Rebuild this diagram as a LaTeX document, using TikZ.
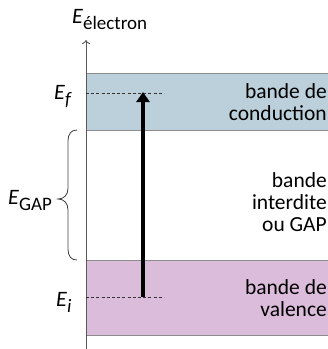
\documentclass[tikz,border=0pt]{standalone}
\usepackage{fontspec}
\setmainfont{Carlito}
\usetikzlibrary{arrows.meta}
\definecolor{condfill}{HTML}{BBD0DA}
\definecolor{valfill}{HTML}{DCBCDB}
\definecolor{edgegray}{HTML}{8C8C8C}
\definecolor{axisgray}{HTML}{595959}
\newcommand{\lowsub}[1]{\raisebox{-6pt}{\fontsize{19}{19}\selectfont #1}}
\begin{document}
\begin{tikzpicture}[x=1pt,y=-1pt,
  bandtext/.style={anchor=east, align=right, font=\fontsize{21.5}{22}\selectfont, inner sep=0pt},
  elabel/.style={anchor=base west, font=\fontsize{22}{24}\selectfont, inner sep=0pt},
  bandedge/.style={draw=edgegray, line width=0.9pt},
  dashln/.style={draw=black!80, dash pattern=on 3pt off 2.2pt, line width=0.8pt},
  axisln/.style={draw=axisgray, line width=0.9pt},
  bigarrow/.style={line width=4pt, -{Triangle[length=10pt,width=13pt]}},
  bracestyle/.style={draw=black!75, line width=0.8pt}
  ]
\useasboundingbox (0,0) rectangle (328,349);
% bands
\fill[condfill] (86,73) rectangle (328,130);
\fill[valfill] (86,260) rectangle (328,335);
\draw[bandedge] (86,73) -- (328,73) (86,130) -- (328,130);
\draw[bandedge] (86,260) -- (328,260) (86,335) -- (328,335);
% axis
\coordinate (axbot) at (86,349);
\coordinate (axtop) at (86,40);
\draw[axisln, -{To[length=4pt,width=8pt]}] (axbot) -- (axtop);
% levels
\coordinate (ef0) at (86,93);
\coordinate (ef1) at (164,93);
\coordinate (ei0) at (86,297);
\coordinate (ei1) at (164,297);
\draw[dashln] (ef0) -- (ef1);
\draw[dashln] (ei0) -- (ei1);
\coordinate (arrbot) at (143,297);
\coordinate (arrtop) at (143,92);
\draw[bigarrow] (arrbot) -- (arrtop);
% brace
\coordinate (brtop) at (77,130);
\coordinate (brbot) at (77,260);
\coordinate (brtip) at (58,199);
\draw[bracestyle] (brtop) .. controls (71,130) and (68,134) .. (68,141)
  -- (68,188) .. controls (68,195) and (64,199) .. (brtip)
  .. controls (64,199) and (68,203) .. (68,210)
  -- (68,249) .. controls (68,256) and (71,260) .. (brbot);
% labels
\node[elabel] (eel) at (72,23) {\textit{E}\lowsub{électron}};
\node[elabel] (ef) at (54,99.5) {\textit{E}\lowsub{\textit{f}}};
\node[elabel] (ei) at (56,306) {\textit{E}\lowsub{\textit{i}}};
\node[elabel] (egap) at (8,204) {\textit{E}\lowsub{GAP}};
% band texts
\node[bandtext] (cond) at (327,102) {bande de\\conduction};
\node[bandtext] (gap) at (327,202) {bande\\interdite\\ou GAP};
\node[bandtext] (val) at (327,298) {bande de\\valence};
\end{tikzpicture}
\end{document}
